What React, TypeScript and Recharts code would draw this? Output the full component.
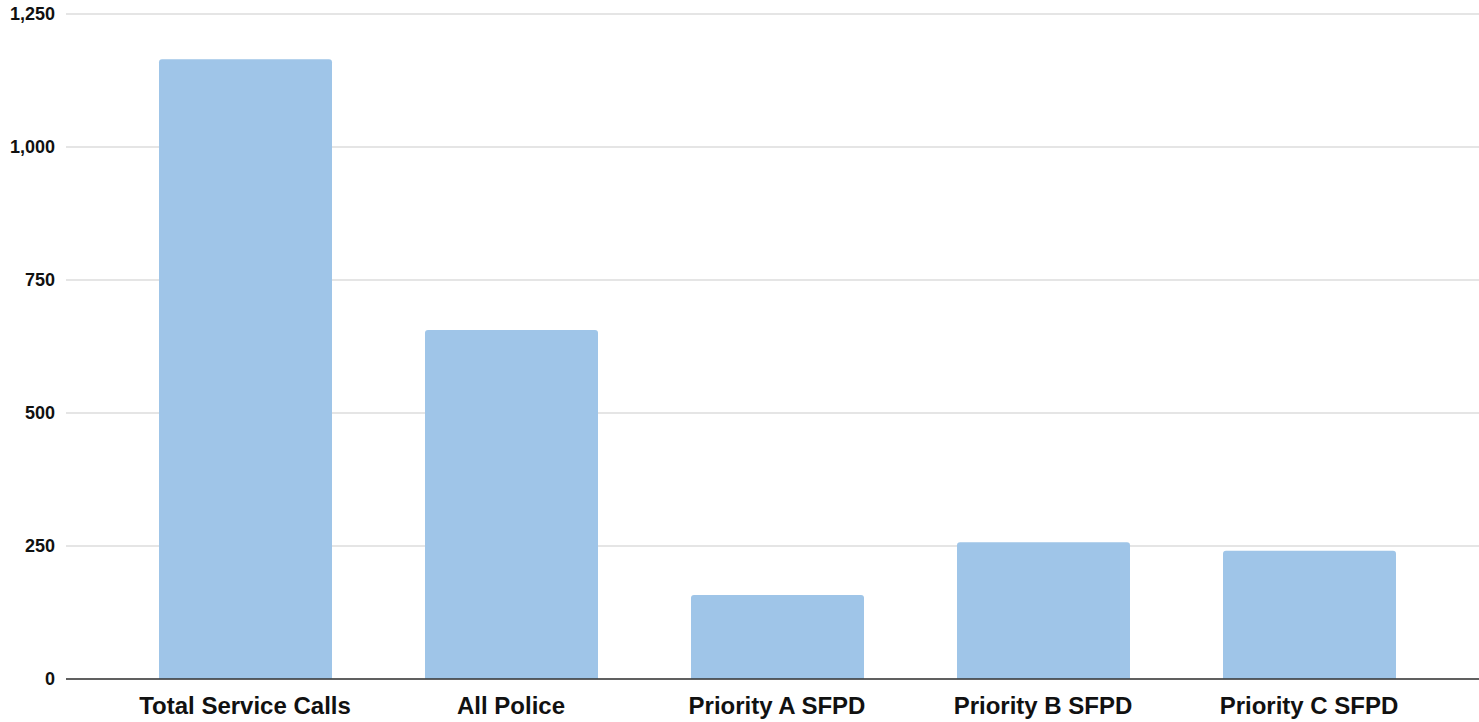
import React from "react";
import { BarChart, Bar, XAxis, YAxis, CartesianGrid } from "recharts";

const categories = ["Total Service Calls", "All Police", "Priority A SFPD", "Priority B SFPD", "Priority C SFPD"];
const callValues = [1165, 656, 158, 257, 241];
const yTicks = [0, 250, 500, 750, 1000, 1250];

const data = categories.map((name, i) => ({ name, value: callValues[i] }));

const font = "'Liberation Sans', Arial, sans-serif";

export default function App() {
  return (
    <div style={{ position: "absolute", left: 0, top: 0, width: 1479, height: 722, background: "#fff" }}>
      <BarChart width={1479} height={722} data={data} margin={{ top: 14, right: 0, bottom: 0, left: 0 }}>
        <CartesianGrid vertical={false} stroke="#cccccc" strokeWidth={1.2} />
        <XAxis
          dataKey="name"
          height={43}
          axisLine={{ stroke: "#333333", strokeWidth: 1.5 }}
          tickLine={false}
          padding={{ left: 46, right: 37 }}
          tickMargin={12}
          interval={0}
          tick={{ fill: "#111111", fontSize: 24, fontWeight: 700, fontFamily: font }}
        />
        <YAxis
          width={66}
          domain={[0, 1250]}
          ticks={yTicks}
          axisLine={false}
          tickLine={false}
          tickMargin={5}
          tickFormatter={(v: number) => v.toLocaleString("en-US")}
          tick={{ fill: "#111111", fontSize: 18, fontWeight: 700, fontFamily: font }}
        />
        <Bar dataKey="value" fill="#9fc5e8" barSize={173} radius={[3, 3, 0, 0]} isAnimationActive={false} />
      </BarChart>
    </div>
  );
}
